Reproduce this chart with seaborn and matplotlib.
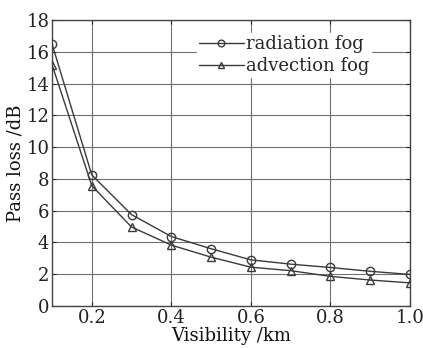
import matplotlib
matplotlib.use("Agg")
import matplotlib.pyplot as plt
import seaborn as sns
import pandas as pd

visibility = [0.1, 0.2, 0.3, 0.4, 0.5, 0.6, 0.7, 0.8, 0.9, 1.0]
radiation_fog = [16.5, 8.25, 5.75, 4.37, 3.6, 2.9, 2.63, 2.42, 2.18, 1.98]
advection_fog = [15.2, 7.57, 4.97, 3.83, 3.07, 2.44, 2.22, 1.86, 1.63, 1.45]
x_ticks = [0.2, 0.4, 0.6, 0.8, 1.0]
y_ticks = [0, 2, 4, 6, 8, 10, 12, 14, 16, 18]

sns.set_style("ticks")
plt.rcParams['font.family'] = ['DejaVu Serif']

fig = plt.figure(figsize=(4.23, 3.48), dpi=100)
ax = fig.add_axes([0.123, 0.121, 0.846, 0.821])

df_r = pd.DataFrame({"x": visibility, "y": radiation_fog})
df_a = pd.DataFrame({"x": visibility, "y": advection_fog})
line_col = "#3a3a3a"
sns.lineplot(data=df_r, x="x", y="y", ax=ax, color=line_col, lw=1.0,
             marker="o", markersize=6, markerfacecolor="none",
             markeredgecolor=line_col, markeredgewidth=1.0,
             label="radiation fog", zorder=3)
sns.lineplot(data=df_a, x="x", y="y", ax=ax, color=line_col, lw=1.0,
             marker="^", markersize=6, markerfacecolor="none",
             markeredgecolor=line_col, markeredgewidth=1.0,
             label="advection fog", zorder=3)

ax.set_xlim(0.1, 1.0)
ax.set_ylim(0, 18)
ax.set_xticks(x_ticks)
ax.set_xticklabels(["0.2", "0.4", "0.6", "0.8", "1.0"])
ax.set_yticks(y_ticks)
ax.grid(True, color="#707070", lw=0.8)
ax.tick_params(direction="in", top=True, right=True, length=3,
               labelsize=13, colors="#222222", pad=2)
for s in ax.spines.values():
    s.set_color("#444444")
    s.set_linewidth(1.0)

ax.set_xlabel("Visibility /km", fontsize=13, labelpad=0, color="#111111")
ax.set_ylabel("Pass loss /dB", fontsize=13, labelpad=1, color="#111111")

leg = ax.legend(loc="upper left", bbox_to_anchor=(0.405, 0.955), frameon=True,
                fontsize=13, handlelength=2.5, handletextpad=0.1,
                borderpad=0.1, labelspacing=0.25, fancybox=False,
                borderaxespad=0.0, markerscale=0.8)
leg.get_frame().set_edgecolor("white")
leg.get_frame().set_facecolor("white")
leg.get_frame().set_alpha(1.0)

fig.savefig("out.png", dpi=100)
